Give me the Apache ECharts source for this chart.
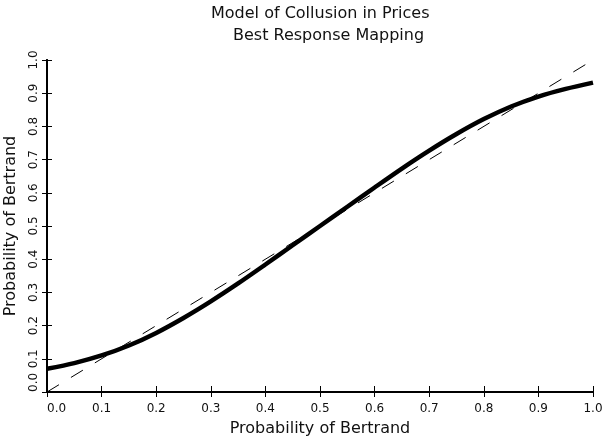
<!DOCTYPE html>
<html>
<head>
<meta charset="utf-8">
<script src="https://cdn.jsdelivr.net/npm/echarts@6/dist/echarts.min.js"></script>
<style>
html,body{margin:0;padding:0;background:#fff;}
#chart{width:603px;height:442px;}
</style>
</head>
<body>
<div id="chart"></div>
<script>
// Data
const titleLine1 = 'Model of Collusion in Prices';
const titleLine2 = 'Best Response Mapping';
const xAxisName = 'Probability of Bertrand';
const yAxisName = 'Probability of Bertrand';

const probBertrand = [0.00, 0.05, 0.10, 0.15, 0.20, 0.25, 0.30, 0.35, 0.40, 0.45, 0.50,
                      0.55, 0.60, 0.65, 0.70, 0.75, 0.80, 0.85, 0.90, 0.95, 1.00];
const bestResponse = [0.070, 0.087, 0.110, 0.140, 0.178, 0.223, 0.273, 0.327, 0.384, 0.442, 0.500,
                      0.558, 0.616, 0.673, 0.727, 0.777, 0.822, 0.860, 0.890, 0.913, 0.932];
const diagonalX = [0, 1];
const diagonalY = [0, 1];

const axisMin = 0, axisMax = 1, axisStep = 0.1;

const FONT = 'DejaVu Sans';
const chart = echarts.init(document.getElementById('chart'), null, {renderer: 'canvas'});

const frameLine = {lineStyle: {color: '#000', width: 2}};
const fmt = v => v.toFixed(1);

chart.setOption({
  animation: false,
  backgroundColor: '#fff',
  title: [
    {text: titleLine1, left: 206, top: 1,
     textStyle: {fontFamily: FONT, fontSize: 16, fontWeight: 'normal', color: '#111'}},
    {text: titleLine2, left: 228, top: 23,
     textStyle: {fontFamily: FONT, fontSize: 16, fontWeight: 'normal', color: '#111'}}
  ],
  grid: {left: 47, right: 10, top: 60, bottom: 50, containLabel: false, outerBoundsMode: 'none'},
  xAxis: [
    {type: 'value', position: 'bottom', min: axisMin, max: axisMax, interval: axisStep,
     axisLine: frameLine,
     axisTick: {inside: true, length: 6, lineStyle: {color: '#000', width: 1}},
     splitLine: {show: false},
     axisLabel: {formatter: fmt, margin: 11, fontFamily: FONT, fontSize: 12, color: '#111',
                 alignMinLabel: 'left'},
     name: xAxisName, nameLocation: 'middle', nameGap: 29,
     nameTextStyle: {fontFamily: FONT, fontSize: 16, color: '#111'}},
    {type: 'value', position: 'top', min: axisMin, max: axisMax, interval: axisStep,
     axisLine: frameLine,
     axisTick: {inside: true, length: 5, lineStyle: {color: '#000', width: 1}},
     splitLine: {show: false}, axisLabel: {show: false}}
  ],
  yAxis: [
    {type: 'value', position: 'left', min: axisMin, max: axisMax, interval: axisStep,
     axisLine: frameLine,
     axisTick: {inside: true, length: 5, lineStyle: {color: '#000', width: 1}},
     splitLine: {show: false},
     axisLabel: {formatter: fmt, rotate: 90, margin: 7, fontFamily: FONT, fontSize: 12, color: '#111',
                 alignMinLabel: 'left'},
     name: yAxisName, nameLocation: 'middle', nameGap: 28,
     nameTextStyle: {fontFamily: FONT, fontSize: 16, color: '#111'}},
    {type: 'value', position: 'right', min: axisMin, max: axisMax, interval: axisStep,
     axisLine: frameLine,
     axisTick: {inside: true, length: 5, lineStyle: {color: '#000', width: 1}},
     splitLine: {show: false}, axisLabel: {show: false}}
  ],
  series: [
    {type: 'line', xAxisIndex: 0, yAxisIndex: 0, name: 'Best response',
     data: probBertrand.map((x, i) => [x, bestResponse[i]]),
     smooth: 0.3, showSymbol: false, symbol: 'none',
     lineStyle: {color: '#000', width: 4.5}, z: 2},
    {type: 'line', xAxisIndex: 0, yAxisIndex: 0, name: '45 degree line',
     data: diagonalX.map((x, i) => [x, diagonalY[i]]),
     showSymbol: false, symbol: 'none',
     lineStyle: {color: '#000', width: 1, type: [14, 14]}, z: 3}
  ]
});
</script>
</body>
</html>
